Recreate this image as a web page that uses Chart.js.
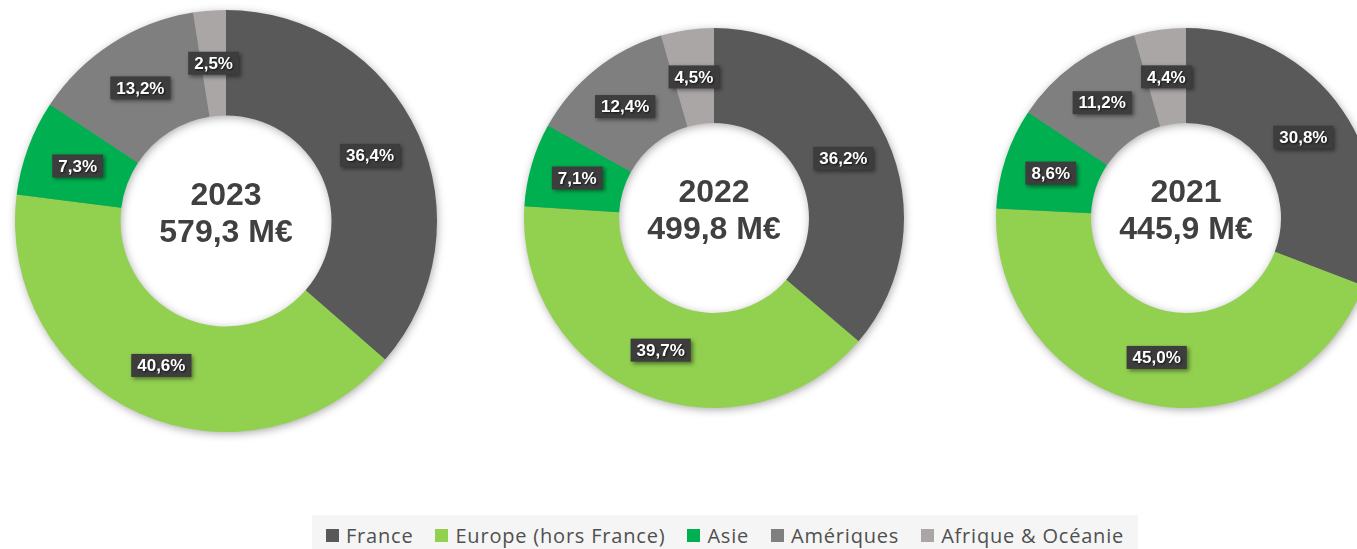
<!DOCTYPE html>
<html>
<head>
<meta charset="utf-8">
<script src="https://cdn.jsdelivr.net/npm/chart.js@4.4.1/dist/chart.umd.min.js"></script>
<style>
  html, body { margin:0; padding:0; background:#ffffff; width:1357px; height:549px; overflow:hidden; }
  canvas { position:absolute; }
  #legend { position:absolute; left:312px; top:515px; width:826px; height:27px; padding-top:7px; background:#f5f5f5;
    display:flex; align-items:center; justify-content:center; font-family:"Open Sans", sans-serif;
    font-size:20px; letter-spacing:0.8px; color:#505050; }
  .item { display:flex; align-items:center; margin:0 11px; white-space:nowrap; }
  .sw { width:13px; height:13px; margin-right:7px; display:inline-block; }
</style>
</head>
<body>
<canvas id="c2023" width="442" height="442" style="left:5px;top:0px;"></canvas>
<canvas id="c2022" width="400" height="400" style="left:514px;top:18px;"></canvas>
<canvas id="c2021" width="400" height="400" style="left:986px;top:18px;"></canvas>
<div id="legend"></div>
<script>
const categories = ["France", "Europe (hors France)", "Asie", "Amériques", "Afrique & Océanie"];
const colors = ["#595959", "#92d050", "#00b050", "#7f7f7f", "#aaa6a6"];
const years = ["2023", "2022", "2021"];
const totals = ["579,3 M€", "499,8 M€", "445,9 M€"];
const values2023 = [36.4, 40.6, 7.3, 13.2, 2.5];
const values2022 = [36.2, 39.7, 7.1, 12.4, 4.5];
const values2021 = [30.8, 45.0, 8.6, 11.2, 4.4];

const seriesList = [values2023, values2022, values2021];
const canvasIds = ["c2023", "c2022", "c2021"];

function fmt(v) { return v.toFixed(1).replace('.', ',') + '%'; }

const ringShadow = {
  id: 'ringShadow',
  beforeDatasetsDraw(chart) {
    const arc = chart.getDatasetMeta(0).data[0];
    if (!arc) return;
    const ctx = chart.ctx;
    const { x, y, innerRadius, outerRadius } = arc.getProps(['x','y','innerRadius','outerRadius'], true);
    ctx.save();
    ctx.shadowColor = 'rgba(0,0,0,0.38)';
    ctx.shadowBlur = 10;
    ctx.shadowOffsetX = 1;
    ctx.shadowOffsetY = 2;
    ctx.beginPath();
    ctx.arc(x, y, outerRadius - 1, 0, Math.PI * 2);
    ctx.arc(x, y, innerRadius + 1, 0, Math.PI * 2, true);
    ctx.fillStyle = '#888';
    ctx.fill('evenodd');
    ctx.restore();
  }
};

const labelsAndCenter = {
  id: 'labelsAndCenter',
  afterDatasetsDraw(chart, args, opts) {
    const ctx = chart.ctx;
    const meta = chart.getDatasetMeta(0);
    const data = chart.data.datasets[0].data;
    ctx.save();
    ctx.font = 'bold 17px "Liberation Sans", Arial, sans-serif';
    ctx.textAlign = 'center';
    ctx.textBaseline = 'middle';
    meta.data.forEach((arc, i) => {
      const p = arc.tooltipPosition(true);
      const txt = fmt(data[i]);
      const w = ctx.measureText(txt).width + 12;
      const h = 23;
      ctx.save();
      ctx.shadowColor = 'rgba(0,0,0,0.45)';
      ctx.shadowBlur = 4;
      ctx.shadowOffsetX = 2;
      ctx.shadowOffsetY = 2;
      ctx.fillStyle = '#3d3d3d';
      ctx.fillRect(p.x - w / 2, p.y - h / 2, w, h);
      ctx.restore();
      ctx.save();
      ctx.shadowColor = 'rgba(0,0,0,0.7)';
      ctx.shadowBlur = 2;
      ctx.shadowOffsetX = 1;
      ctx.shadowOffsetY = 1;
      ctx.fillStyle = '#ffffff';
      ctx.fillText(txt, p.x, p.y + 1);
      ctx.restore();
    });
    const arc0 = meta.data[0];
    const cx = arc0.x, cy = arc0.y;
    ctx.fillStyle = '#404040';
    ctx.font = 'bold 32px "Liberation Sans", Arial, sans-serif';
    ctx.fillText(opts.year, cx, cy - 25);
    ctx.fillText(opts.total, cx, cy + 12);
    ctx.restore();
  }
};

seriesList.forEach((vals, k) => {
  new Chart(document.getElementById(canvasIds[k]), {
    type: 'doughnut',
    data: {
      labels: categories,
      datasets: [{ data: vals, backgroundColor: colors, borderWidth: 0, hoverOffset: 0 }]
    },
    options: {
      responsive: false,
      animation: false,
      cutout: '50%',
      layout: { padding: 10 },
      plugins: {
        legend: { display: false },
        tooltip: { enabled: false },
        labelsAndCenter: { year: years[k], total: totals[k] }
      }
    },
    plugins: [ringShadow, labelsAndCenter]
  });
});

const legend = document.getElementById('legend');
categories.forEach((c, i) => {
  const it = document.createElement('div');
  it.className = 'item';
  const sw = document.createElement('span');
  sw.className = 'sw';
  sw.style.background = colors[i];
  const t = document.createElement('span');
  t.textContent = c;
  it.appendChild(sw); it.appendChild(t);
  legend.appendChild(it);
});
</script>
</body>
</html>
